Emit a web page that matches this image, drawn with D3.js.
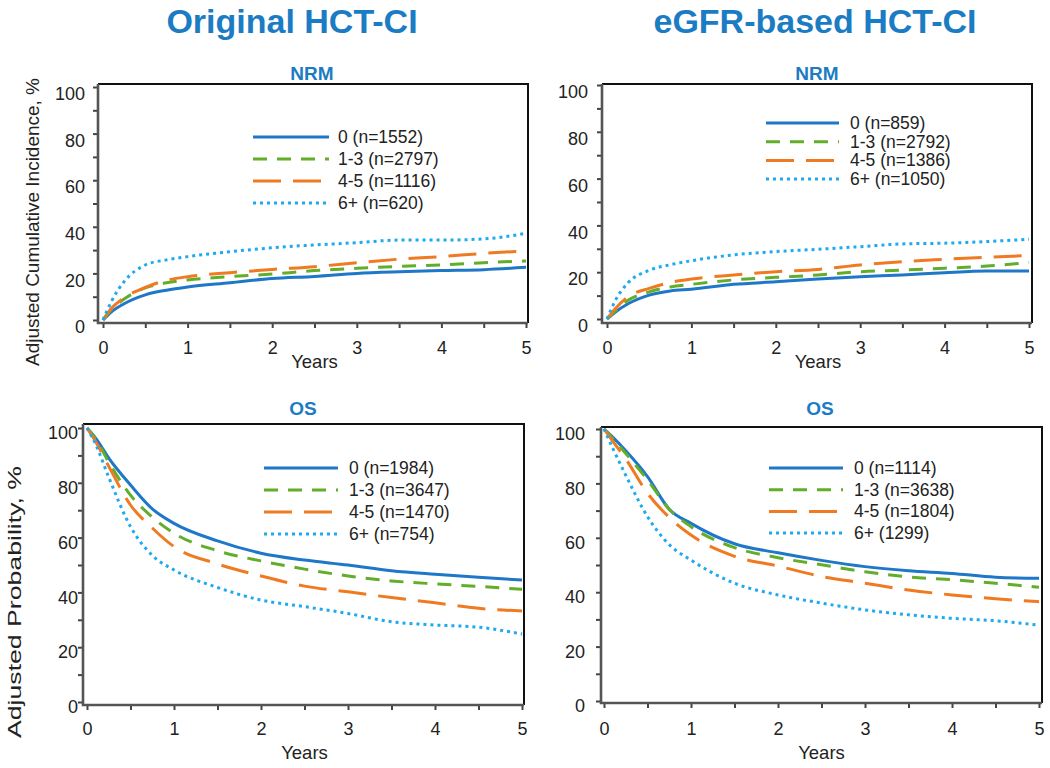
<!DOCTYPE html>
<html><head><meta charset="utf-8">
<script src="https://cdn.jsdelivr.net/npm/d3@7"></script>
<style>body{margin:0;background:#fff}svg{display:block;font-family:Arial,"Liberation Sans",sans-serif}</style>
</head><body><svg id="c" width="1050" height="768"></svg>
<script>
// ---- data ----
const groups = ["0", "1-3", "4-5", "6+"];
const years = [0, 0.1, 0.25, 0.5, 0.75, 1, 1.5, 2, 2.5, 3, 3.5, 4, 4.5, 5];
const xTicks = [0, 0.5, 1, 1.5, 2, 2.5, 3, 3.5, 4, 4.5, 5];
const yTicks = [0, 10, 20, 30, 40, 50, 60, 70, 80, 90, 100];

const nrmOrigLabels = ["0 (n=1552)", "1-3 (n=2797)", "4-5 (n=1116)", "6+ (n=620)"];
const nrmOrig0  = [0, 3.5, 7, 10.8, 12.8, 14.2, 16.0, 17.8, 18.7, 20.0, 20.7, 21.2, 21.6, 22.6];
const nrmOrig13 = [0, 4.5, 9, 13.8, 16.0, 17.2, 18.6, 19.7, 21.2, 22.2, 23.0, 23.6, 24.6, 25.3];
const nrmOrig45 = [0, 5, 9.5, 14, 17.0, 18.6, 20.3, 21.7, 22.9, 24.6, 26.1, 27.2, 28.6, 29.6];
const nrmOrig6  = [0, 8, 16.5, 23.6, 25.8, 27.2, 29.3, 31.0, 32.2, 33.2, 34.3, 34.3, 34.8, 37.2];

const nrmEgfrLabels = ["0 (n=859)", "1-3 (n=2792)", "4-5 (n=1386)", "6+ (n=1050)"];
const nrmEgfr0  = [0, 3, 6.5, 10.2, 12.0, 12.7, 14.8, 15.9, 17.1, 18.1, 18.8, 19.8, 20.5, 20.5];
const nrmEgfr13 = [0, 3.5, 8, 11.6, 13.7, 14.8, 16.7, 17.8, 18.8, 20.2, 20.9, 21.7, 22.6, 24.2];
const nrmEgfr45 = [0, 4.5, 9.5, 13.1, 15.6, 17.1, 18.8, 20.2, 21.2, 23.1, 24.5, 25.5, 26.4, 27.1];
const nrmEgfr6  = [0, 8, 15.5, 20.8, 23.2, 24.9, 27.4, 28.8, 29.8, 30.9, 32.1, 32.4, 33.1, 34.1];

const osOrigLabels = ["0 (n=1984)", "1-3 (n=3647)", "4-5 (n=1470)", "6+ (n=754)"];
const osOrig0  = [100, 96.3, 89, 79.2, 70.5, 65.2, 58.8, 54.3, 51.8, 50.0, 47.9, 46.6, 45.5, 44.5];
const osOrig13 = [100, 96, 87.5, 75.5, 67.5, 61.6, 55.2, 51.5, 48.5, 46.0, 44.2, 43.1, 42.2, 41.1];
const osOrig45 = [100, 95, 86, 71.9, 63.5, 56.7, 50.4, 46.0, 42.3, 40.2, 38.1, 36.2, 34.2, 33.2];
const osOrig6  = [100, 94, 82, 64, 53.5, 48.2, 41.8, 37.2, 34.8, 32.3, 29.3, 28.1, 27.3, 24.8];

const osEgfrLabels = ["0 (n=1114)", "1-3 (n=3638)", "4-5 (n=1804)", "6+ (1299)"];
const osEgfr0  = [100, 97, 92, 82.5, 70.5, 65.3, 57.8, 54.5, 51.7, 49.4, 47.9, 46.9, 45.5, 45.1];
const osEgfr13 = [100, 96.5, 91, 81.3, 70.5, 64.1, 56.4, 52.7, 50.1, 47.5, 45.6, 44.6, 43.3, 41.8];
const osEgfr45 = [100, 95.5, 89, 76.4, 67.5, 61, 53.2, 49.6, 45.8, 43.3, 40.8, 39, 37.6, 36.5];
const osEgfr6  = [100, 93, 83, 67.8, 57.5, 51.8, 43.3, 39, 36, 33.5, 31.7, 30.4, 29.5, 27.9];

// ---- styles ----
const colors = ["#1f77c8", "#62ad2a", "#f07a22", "#1eaaee"];
const dashes = [null, "14,10", "28,12", "3,4"];
const titleBlue = "#1b7cc4";
const textCol = "#222";

const svg = d3.select("#c");

svg.append("text").attr("x", 292).attr("y", 33).attr("text-anchor", "middle")
  .attr("font-size", 34).attr("font-weight", "bold").attr("fill", titleBlue).text("Original HCT-CI");
svg.append("text").attr("x", 815).attr("y", 33).attr("text-anchor", "middle")
  .attr("font-size", 34).attr("font-weight", "bold").attr("fill", titleBlue).text("eGFR-based HCT-CI");

svg.append("text").attr("transform", "translate(39,222) rotate(-90)").attr("text-anchor", "middle")
  .attr("font-size", 18.5).attr("fill", textCol).attr("textLength", 288).attr("lengthAdjust", "spacingAndGlyphs")
  .text("Adjusted Cumulative Incidence, %");
svg.append("text").attr("transform", "translate(21,602) rotate(-90)").attr("text-anchor", "middle")
  .attr("font-size", 18.5).attr("fill", textCol).attr("textLength", 272).attr("lengthAdjust", "spacingAndGlyphs")
  .text("Adjusted Probability, %");

const panels = [
  {title: "NRM", series: [nrmOrig0, nrmOrig13, nrmOrig45, nrmOrig6], labels: nrmOrigLabels,
   x0: 103, x5: 526, axX: 98, top: 84, right: 528, y100: 87, y0: 320, axY: 323,
   titleX: 312, titleY: 80, lblGap: 13, lblDy: 7, xlY: 354, yearsY: 368,
   leg: {x1: 253, x2: 329, tx: 338, y: 137, dy: 22}},
  {title: "NRM", series: [nrmEgfr0, nrmEgfr13, nrmEgfr45, nrmEgfr6], labels: nrmEgfrLabels,
   x0: 607, x5: 1029, axX: 602, top: 84, right: 1032, y100: 85, y0: 319, axY: 323,
   titleX: 817, titleY: 80, lblGap: 14, lblDy: 7, xlY: 354, yearsY: 368,
   leg: {x1: 766, x2: 839, tx: 850, y: 123, dy: 18.7}},
  {title: "OS", series: [osOrig0, osOrig13, osOrig45, osOrig6], labels: osOrigLabels,
   x0: 87, x5: 522, axX: 83, top: 424, right: 524, y100: 428, y0: 702, axY: 705,
   titleX: 303, titleY: 415, lblGap: 5, lblDy: 5, xlY: 735, yearsY: 759,
   leg: {x1: 264, x2: 338, tx: 349, y: 468, dy: 22}},
  {title: "OS", series: [osEgfr0, osEgfr13, osEgfr45, osEgfr6], labels: osEgfrLabels,
   x0: 604, x5: 1039, axX: 601, top: 427, right: 1042, y100: 429, y0: 701, axY: 703,
   titleX: 820, titleY: 415, lblGap: 16, lblDy: 5, xlY: 735, yearsY: 759,
   leg: {x1: 769, x2: 843, tx: 854, y: 468, dy: 21.7}}
];

panels.forEach(p => {
  const g = svg.append("g");
  const x = d3.scaleLinear().domain([0, 5]).range([p.x0, p.x5]);
  const y = d3.scaleLinear().domain([0, 100]).range([p.y0, p.y100]);

  g.append("text").attr("x", p.titleX).attr("y", p.titleY).attr("text-anchor", "middle")
    .attr("font-size", 19).attr("font-weight", "bold").attr("fill", titleBlue).text(p.title);

  g.append("path").attr("d", `M${p.axX},${p.top}H${p.right}V${p.axY}`)
    .attr("fill", "none").attr("stroke", "#111").attr("stroke-width", 2);

  const ya = g.append("g").attr("transform", `translate(${p.axX},0)`)
    .call(d3.axisLeft(y).tickValues(yTicks).tickSize(5).tickPadding(p.lblGap - 5)
      .tickFormat(d => d % 20 === 0 ? d : ""));
  ya.select(".domain").remove();
  ya.selectAll(".tick line").attr("stroke", "#444").attr("stroke-width", 2);
  ya.selectAll(".tick text").attr("font-size", 18).attr("fill", textCol)
    .attr("font-family", "Arial, 'Liberation Sans', sans-serif").attr("dy", `${0.32 + p.lblDy / 18}em`);

  const xa = g.append("g").attr("transform", `translate(0,${p.axY})`)
    .call(d3.axisBottom(x).tickValues(xTicks).tickSize(5).tickPadding(0)
      .tickFormat(d => Number.isInteger(d) ? d : ""));
  xa.select(".domain").remove();
  xa.selectAll(".tick line").attr("stroke", "#444").attr("stroke-width", 2);
  xa.selectAll(".tick text").attr("font-size", 18).attr("fill", textCol)
    .attr("font-family", "Arial, 'Liberation Sans', sans-serif")
    .attr("dy", null).attr("y", p.xlY - p.axY);

  g.append("path").attr("d", `M${p.axX},${p.top}V${p.axY}H${p.right}`)
    .attr("fill", "none").attr("stroke", "#555").attr("stroke-width", 2.6);

  g.append("text").attr("x", (p.x0 + p.x5) / 2).attr("y", p.yearsY).attr("text-anchor", "middle")
    .attr("font-size", 18.5).attr("fill", textCol).text("Years");

  const line = d3.line().x((d, i) => x(years[i])).y(d => y(d)).curve(d3.curveMonotoneX);
  p.series.forEach((s, i) => {
    g.append("path").datum(s).attr("d", line).attr("fill", "none")
      .attr("stroke", colors[i]).attr("stroke-width", 3)
      .attr("stroke-dasharray", dashes[i]);
  });

  groups.forEach((gr, i) => {
    const yy = p.leg.y + i * p.leg.dy;
    g.append("line").attr("x1", p.leg.x1).attr("x2", p.leg.x2).attr("y1", yy).attr("y2", yy)
      .attr("stroke", colors[i]).attr("stroke-width", 3).attr("stroke-dasharray", dashes[i]);
    g.append("text").attr("x", p.leg.tx).attr("y", yy + 6).attr("font-size", 17.5)
      .attr("fill", textCol).text(p.labels[i]);
  });
});
</script></body></html>
